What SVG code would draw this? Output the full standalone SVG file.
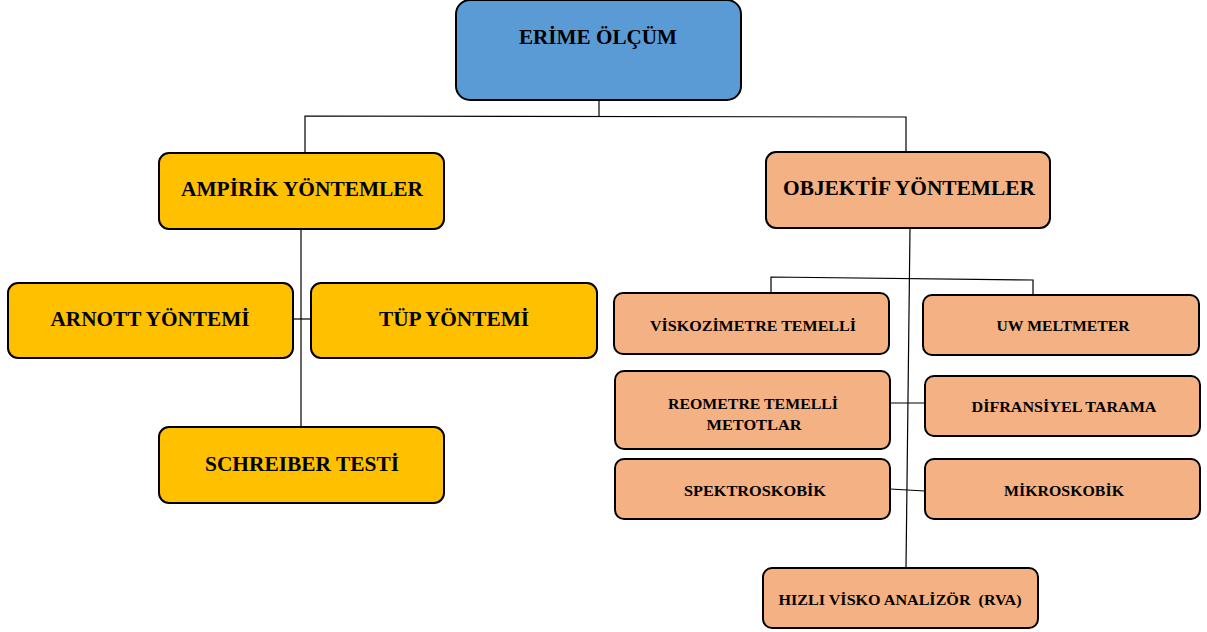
<svg xmlns="http://www.w3.org/2000/svg" width="1207" height="632" viewBox="0 0 1207 632">
<style>
.box{stroke:#000;stroke-width:2}
.blue{fill:#5B9BD5}
.gold{fill:#FFC000}
.sal{fill:#F4B183}
text{font-family:"Liberation Serif","Times New Roman",serif;font-weight:bold;fill:#000;text-anchor:middle}
.big{font-size:21px}
.mid{font-size:20px}
.sm{font-size:14.5px}
.xs{font-size:14px}
.c{stroke:#000;stroke-width:1.2;fill:none}
</style>
<rect width="1207" height="632" fill="#fff"/>
<g id="connectors">
<polyline class="c" points="599,100 599,116"/>
<polyline class="c" points="305,153 305,116 906,117 906,152"/>
<polyline class="c" points="301,229 301,427"/>
<polyline class="c" points="293,319 311,319"/>
<polyline class="c" points="910,228 906,568"/>
<polyline class="c" points="771,293 771,277 1033,280 1033,295"/>
<polyline class="c" points="890,403 925,403"/>
<polyline class="c" points="890,489 925,491"/>
</g>
<g id="erime">
<rect class="box blue" x="456" y="0" width="285" height="100" rx="14"/>
<text class="big" x="598" y="44" textLength="158" lengthAdjust="spacingAndGlyphs">ERİME ÖLÇÜM</text>
</g>
<g id="ampirik">
<rect class="box gold" x="159" y="153" width="285" height="76" rx="10"/>
<text class="mid" x="302" y="196" textLength="242" lengthAdjust="spacingAndGlyphs">AMPİRİK YÖNTEMLER</text>
</g>
<g id="arnott">
<rect class="box gold" x="8" y="283" width="285" height="75" rx="10"/>
<text class="mid" x="150" y="326" textLength="199" lengthAdjust="spacingAndGlyphs">ARNOTT YÖNTEMİ</text>
</g>
<g id="tup">
<rect class="box gold" x="311" y="283" width="286" height="75" rx="10"/>
<text class="mid" x="454" y="326" textLength="150" lengthAdjust="spacingAndGlyphs">TÜP YÖNTEMİ</text>
</g>
<g id="schreiber">
<rect class="box gold" x="159" y="427" width="285" height="76" rx="10"/>
<text class="mid" x="302" y="471" textLength="194" lengthAdjust="spacingAndGlyphs">SCHREIBER TESTİ</text>
</g>
<g id="objektif">
<rect class="box sal" x="766" y="152" width="284" height="76" rx="10"/>
<text class="mid" x="909" y="195" textLength="252" lengthAdjust="spacingAndGlyphs">OBJEKTİF YÖNTEMLER</text>
</g>
<g id="viskozimetre">
<rect class="box sal" x="614" y="293" width="275" height="61" rx="9"/>
<text class="sm" x="753" y="331" textLength="206" lengthAdjust="spacingAndGlyphs">VİSKOZİMETRE TEMELLİ</text>
</g>
<g id="uw">
<rect class="box sal" x="923" y="295" width="276" height="60" rx="9"/>
<text class="sm" x="1063" y="331" textLength="133" lengthAdjust="spacingAndGlyphs">UW MELTMETER</text>
</g>
<g id="reometre">
<rect class="box sal" x="615" y="371" width="275" height="78" rx="9"/>
<text class="sm" x="753" y="409" textLength="170" lengthAdjust="spacingAndGlyphs">REOMETRE TEMELLİ</text>
<text class="sm" x="754" y="430" textLength="95" lengthAdjust="spacingAndGlyphs">METOTLAR</text>
</g>
<g id="difransiyel">
<rect class="box sal" x="925" y="376" width="275" height="60" rx="9"/>
<text class="sm" x="1064" y="412" textLength="185" lengthAdjust="spacingAndGlyphs">DİFRANSİYEL TARAMA</text>
</g>
<g id="spektroskobik">
<rect class="box sal" x="615" y="459" width="275" height="60" rx="9"/>
<text class="sm" x="755" y="496" textLength="142" lengthAdjust="spacingAndGlyphs">SPEKTROSKOBİK</text>
</g>
<g id="mikroskobik">
<rect class="box sal" x="925" y="459" width="275" height="60" rx="9"/>
<text class="sm" x="1064" y="496" textLength="120" lengthAdjust="spacingAndGlyphs">MİKROSKOBİK</text>
</g>
<g id="rva">
<rect class="box sal" x="763" y="568" width="275" height="60" rx="9"/>
<text class="xs" x="900" y="605" xml:space="preserve" textLength="243" lengthAdjust="spacingAndGlyphs">HIZLI VİSKO ANALİZÖR  (RVA)</text>
</g>
</svg>
